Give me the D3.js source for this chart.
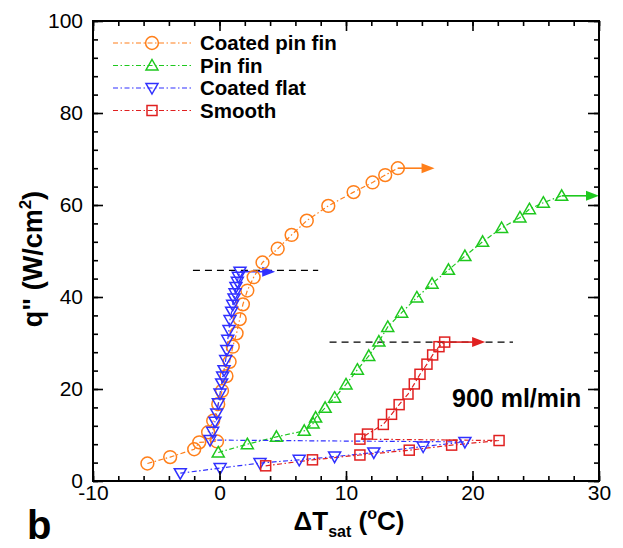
<!DOCTYPE html>
<html>
<head>
<meta charset="utf-8">
<script src="https://cdn.jsdelivr.net/npm/d3@7"></script>
<style>
  html, body { margin: 0; padding: 0; background: #fff; }
  svg { display: block; }
  text { font-family: "Liberation Sans", Arial, Helvetica, sans-serif; }
</style>
</head>
<body>
<svg id="chart" width="623" height="548"></svg>
<script>
// Heat flux q" (W/cm2) versus wall superheat ΔTsat (°C), 900 ml/min

const seriesNames = ["Coated pin fin", "Pin fin", "Coated flat", "Smooth"];

const coatedPinX = [-5.7, -3.9, -2.0, -1.6, -0.2, -0.9, -0.5, -0.1, 0.2, 0.55, 0.8, 1.05, 1.35, 1.6, 1.85, 2.2, 2.7, 3.4, 4.6, 5.7, 6.9, 8.6, 10.6, 12.1, 13.1, 14.1];
const coatedPinY = [3.8, 5.2, 6.9, 8.4, 8.6, 10.6, 13.1, 16.7, 19.6, 22.8, 25.9, 29.2, 32.1, 35.2, 38.4, 41.4, 44.3, 47.5, 50.5, 53.5, 56.6, 59.8, 62.8, 64.9, 66.5, 68.0];

const pinFinX = [-0.1, 2.2, 4.5, 6.7, 7.4, 7.6, 8.35, 9.1, 10.0, 10.9, 11.8, 12.6, 13.3, 14.4, 15.6, 16.8, 18.1, 19.4, 20.8, 22.3, 23.75, 24.5, 25.6, 27.05];
const pinFinY = [6.2, 8.0, 9.6, 10.9, 12.5, 13.8, 15.9, 18.1, 21.0, 24.2, 27.2, 30.3, 33.5, 36.6, 39.9, 42.9, 45.9, 48.9, 52.0, 55.0, 57.3, 59.1, 60.5, 62.0];

const coatedFlatX = [-3.1, 0.05, 3.2, 6.3, 9.1, 12.2, 16.1, 19.4,
  -0.75, -0.54, -0.36, -0.22, -0.09, 0.04, 0.17, 0.25, 0.36, 0.49, 0.57, 0.65, 0.75, 0.83, 0.96, 1.04, 1.15, 1.23, 1.30, 1.41, 1.49, 1.62];
const coatedFlatY = [1.7, 2.8, 3.9, 4.6, 5.3, 6.2, 7.5, 8.5,
  8.9, 10.7, 12.9, 14.7, 16.9, 19.0, 21.2, 22.7, 24.1, 26.3, 28.5, 30.7, 32.8, 35.0, 36.8, 38.3, 39.7, 40.8, 42.2, 43.3, 44.4, 45.5];

const smoothX = [3.65, 7.35, 11.1, 15.0, 18.35, 22.1,
  11.1, 11.7, 12.95, 13.6, 14.2, 14.9, 15.4, 15.85, 16.4, 16.85, 17.35, 17.8];
const smoothY = [3.3, 4.6, 5.65, 6.7, 7.8, 8.8,
  9.1, 10.2, 12.3, 14.5, 16.6, 18.9, 21.1, 23.2, 25.4, 27.4, 29.2, 30.2];

// Arrow drawn after the last point of each series, ending at this x
const arrowEndX = [17.0, 30.0, 4.4, 21.0];

// Dashed reference lines: y, x start, x end
const refLineY = [45.8, 30.2];
const refLineX0 = [-2.1, 8.7];
const refLineX1 = [7.8, 23.2];

const xTicks = [-10, 0, 10, 20, 30];
const yTicks = [0, 20, 40, 60, 80, 100];
const annotation = "900 ml/min";
const panelLabel = "b";

const colors = ["#ff7f1a", "#1ec81e", "#3030ff", "#e02020"];
const symbols = ["circle", "triangleUp", "triangleDown", "square"];

const seriesX = [coatedPinX, pinFinX, coatedFlatX, smoothX];
const seriesY = [coatedPinY, pinFinY, coatedFlatY, smoothY];

const margin = { left: 93, top: 21, right: 24, bottom: 67 };
const W = 623, H = 548;
const pw = W - margin.left - margin.right;
const ph = H - margin.top - margin.bottom;

const svg = d3.select("#chart");
const g = svg.append("g").attr("transform", `translate(${margin.left},${margin.top})`);

const x = d3.scaleLinear().domain([-10, 30]).range([0, pw]);
const y = d3.scaleLinear().domain([0, 100]).range([ph, 0]);

const dashDot = "5,2.5,1.5,2.5";

function drawMarker(sel, sym, color) {
  if (sym === "circle") {
    sel.append("circle").attr("r", 6.4);
  } else if (sym === "triangleUp") {
    sel.append("path").attr("d", "M0,-6 L6,4.5 L-6,4.5 Z");
  } else if (sym === "triangleDown") {
    sel.append("path").attr("d", "M0,6 L6,-4.5 L-6,-4.5 Z");
  } else {
    sel.append("rect").attr("x", -5).attr("y", -5).attr("width", 10).attr("height", 10);
  }
  sel.selectAll("*").attr("fill", "none").attr("stroke", color).attr("stroke-width", 1.5);
}

// reference dashed lines
refLineY.forEach((ry, i) => {
  g.append("line")
    .attr("x1", x(refLineX0[i])).attr("x2", x(refLineX1[i]))
    .attr("y1", y(ry)).attr("y2", y(ry))
    .attr("stroke", "#000").attr("stroke-width", 1.3)
    .attr("stroke-dasharray", "7,5");
});

const line = d3.line().x(d => x(d[0])).y(d => y(d[1]));

// series: arrows and connecting lines first, markers on top
seriesNames.forEach((name, i) => {
  const pts = seriesX[i].map((v, k) => [v, seriesY[i][k]]);
  const last = pts[pts.length - 1];
  const c = colors[i];
  const ax0 = x(last[0]), ax1 = x(arrowEndX[i]), ay = y(last[1]);
  g.append("line").attr("x1", ax0).attr("x2", ax1 - 10).attr("y1", ay).attr("y2", ay)
    .attr("stroke", c).attr("stroke-width", 1.6);
  g.append("path")
    .attr("d", `M${ax1},${ay} L${ax1 - 13},${ay - 5} L${ax1 - 13},${ay + 5} Z`)
    .attr("fill", c);
  g.append("path").datum(pts).attr("d", line)
    .attr("fill", "none").attr("stroke", c).attr("stroke-width", 1.2)
    .attr("stroke-dasharray", dashDot);
});
seriesNames.forEach((name, i) => {
  const pts = seriesX[i].map((v, k) => [v, seriesY[i][k]]);
  g.append("g").selectAll("g").data(pts).join("g")
    .attr("transform", d => `translate(${x(d[0])},${y(d[1])})`)
    .each(function () { drawMarker(d3.select(this), symbols[i], colors[i]); });
});

// axes with inward ticks on all four sides
const xMinor = d3.range(-10, 30.1, 2);
const yMinor = d3.range(0, 100.1, 4);
const plain = d => String(d);
function styleAxis(sel) {
  sel.select(".domain").remove();
  sel.selectAll("line").attr("stroke", "#000").attr("stroke-width", 1.6);
  sel.selectAll("text").attr("font-size", 21).attr("fill", "#000");
}
g.append("g").attr("transform", `translate(0,${ph})`)
  .call(d3.axisBottom(x).tickValues(xMinor).tickSize(-5).tickFormat("")).call(styleAxis);
g.append("g").attr("transform", `translate(0,${ph})`)
  .call(d3.axisBottom(x).tickValues(xTicks).tickSize(-10).tickPadding(4).tickFormat(plain)).call(styleAxis);
g.append("g")
  .call(d3.axisTop(x).tickValues(xMinor).tickSize(-5).tickFormat("")).call(styleAxis);
g.append("g")
  .call(d3.axisTop(x).tickValues(xTicks).tickSize(-10).tickFormat("")).call(styleAxis);
g.append("g")
  .call(d3.axisLeft(y).tickValues(yMinor).tickSize(-5).tickFormat("")).call(styleAxis);
g.append("g")
  .call(d3.axisLeft(y).tickValues(yTicks).tickSize(-10).tickPadding(10).tickFormat(plain)).call(styleAxis);
g.append("g").attr("transform", `translate(${pw},0)`)
  .call(d3.axisRight(y).tickValues(yMinor).tickSize(-5).tickFormat("")).call(styleAxis);
g.append("g").attr("transform", `translate(${pw},0)`)
  .call(d3.axisRight(y).tickValues(yTicks).tickSize(-11).tickFormat("")).call(styleAxis);

// frame
g.append("rect").attr("width", pw).attr("height", ph)
  .attr("fill", "none").attr("stroke", "#000").attr("stroke-width", 2);

// legend
const legend = g.append("g").attr("transform", `translate(${x(-10)}, 0)`);
seriesNames.forEach((name, i) => {
  const ly = 22 + i * 22.5;
  const row = legend.append("g").attr("transform", `translate(0,${ly})`);
  row.append("line").attr("x1", 20).attr("x2", 99).attr("y1", 0).attr("y2", 0)
    .attr("stroke", colors[i]).attr("stroke-width", 1.2).attr("stroke-dasharray", dashDot);
  const m = row.append("g").attr("transform", "translate(59,0)");
  drawMarker(m, symbols[i], colors[i]);
  row.append("text").attr("x", 107).attr("y", 7)
    .attr("font-size", 20.5).attr("font-weight", "bold").attr("fill", "#000").text(name);
});

// annotation
g.append("text").attr("x", 359).attr("y", 386)
  .attr("font-size", 25).attr("font-weight", "bold").attr("fill", "#000").text(annotation);

// y title
const yt = svg.append("text")
  .attr("transform", `translate(42,${margin.top + ph / 2 + 8}) rotate(-90)`)
  .attr("text-anchor", "middle").attr("font-size", 27).attr("font-weight", "bold").attr("fill", "#000");
yt.append("tspan").text('q" (W/cm');
yt.append("tspan").attr("font-size", 17).attr("dy", -11).text("2");
yt.append("tspan").attr("dy", 11).text(")");

// x title
const xt = svg.append("text")
  .attr("x", margin.left + pw / 2 + 3).attr("y", 530)
  .attr("text-anchor", "middle").attr("font-size", 26).attr("font-weight", "bold").attr("fill", "#000");
xt.append("tspan").text("ΔT");
xt.append("tspan").attr("font-size", 16).attr("dy", 7).text("sat");
xt.append("tspan").attr("dy", -7).text(" (");
xt.append("tspan").attr("font-size", 16).attr("dy", -11).text("o");
xt.append("tspan").attr("dy", 11).text("C)");

// panel label
svg.append("text").attr("x", 27).attr("y", 539)
  .attr("font-size", 40).attr("font-weight", "bold").attr("fill", "#000").text(panelLabel);
</script>
</body>
</html>
